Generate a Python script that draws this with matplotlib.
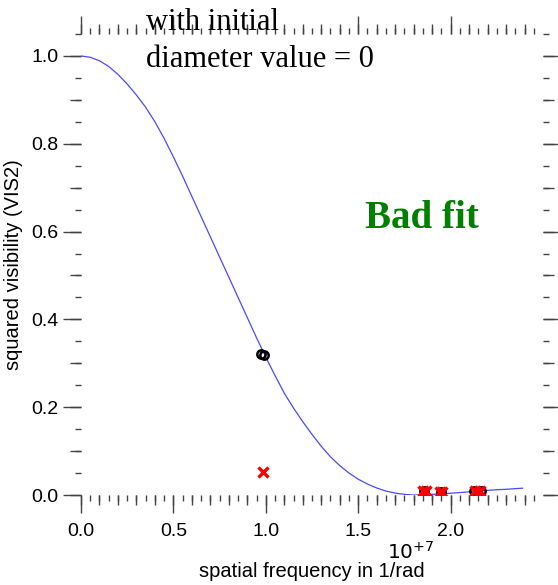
import numpy as np
import matplotlib
matplotlib.use("Agg")
import matplotlib.pyplot as plt

# spatial frequency in units of 1e7 1/rad
fit_freq = [0.0, 0.05, 0.10, 0.15, 0.20, 0.25, 0.30, 0.35, 0.40, 0.45, 0.50,
            0.55, 0.60, 0.65, 0.70, 0.75, 0.80, 0.85, 0.90, 0.95, 1.00,
            1.05, 1.10, 1.15, 1.20, 1.25, 1.30, 1.35, 1.40, 1.45, 1.50,
            1.55, 1.60, 1.65, 1.70, 1.75, 1.80, 1.85, 1.90, 1.95, 2.00,
            2.05, 2.10, 2.15, 2.20, 2.25, 2.30, 2.35, 2.39]
fit_vis2 = [1.0, 0.997, 0.989, 0.976, 0.958, 0.936, 0.911, 0.883, 0.850, 0.812, 0.770,
            0.726, 0.680, 0.634, 0.588, 0.542, 0.496, 0.450, 0.404, 0.358, 0.314,
            0.272, 0.232, 0.198, 0.167, 0.138, 0.111, 0.087, 0.067, 0.050, 0.036,
            0.025, 0.016, 0.009, 0.0045, 0.0015, 0.0, 0.0005, 0.0015, 0.0027, 0.004,
            0.0055, 0.0072, 0.009, 0.0105, 0.012, 0.013, 0.0145, 0.0155]

obs_freq = [0.975, 0.99, 1.855, 1.95, 2.125, 2.165]
obs_vis2 = [0.322, 0.318, 0.009, 0.006, 0.010, 0.010]

mod_freq = [0.985, 1.85, 1.865, 1.94, 1.955, 2.13, 2.16]
mod_vis2 = [0.053, 0.010, 0.009, 0.007, 0.006, 0.009, 0.009]

x_major = np.arange(0, 2.01, 0.5)
x_mid = np.arange(0, 2.41, 0.1)
x_minor = np.arange(0, 2.46, 0.05)
y_major = np.arange(0, 1.01, 0.2)
y_mid = np.arange(0, 1.051, 0.1)
y_minor = np.arange(0, 1.051, 0.05)

sans = ["Liberation Sans", "DejaVu Sans"]
serif = ["Liberation Serif", "DejaVu Serif"]
tick_col = "#444444"

fig = plt.figure(figsize=(5.58, 5.85), dpi=100)
ax = fig.add_axes([81 / 558, 90 / 585, 462 / 558, 461 / 585])

ax.plot(fit_freq, fit_vis2, color="#4a4aff", lw=0.9, zorder=2)
ax.plot(obs_freq, obs_vis2, "o", ms=6, mfc="none", mec="black", mew=1.8, zorder=3)
ax.plot(mod_freq, mod_vis2, "x", ms=6.5, color="red", mew=2.4, zorder=4)

ax.set_xlim(0, 2.5)
ax.set_ylim(0, 1.05)
for s in ax.spines.values():
    s.set_visible(False)

ax.set_xticks(x_major)
ax.set_xticks(x_minor, minor=True)
ax.set_yticks(y_major)
ax.set_yticks(y_minor, minor=True)
ax.set_xticklabels(["%.1f" % v for v in x_major], family=sans, fontsize=14)
ax.set_yticklabels(["%.1f" % v for v in y_major], family=sans, fontsize=14)
ax.tick_params(which="both", direction="out", top=True, right=True, color=tick_col, width=1.0)
ax.tick_params(which="major", length=13)
ax.tick_params(which="minor", length=4.5)
ax.tick_params(axis="x", which="major", pad=7)
ax.tick_params(axis="y", which="major", pad=3)

# medium ticks every 0.1
for loc in ["bottom", "top"]:
    sec = ax.secondary_xaxis(loc)
    sec.set_xticks(x_mid, labels=[""] * len(x_mid))
    sec.tick_params(direction="out", length=7, color=tick_col, width=1.0)
    for s in sec.spines.values():
        s.set_visible(False)
for loc in ["left", "right"]:
    sec = ax.secondary_yaxis(loc)
    sec.set_yticks(y_mid, labels=[""] * len(y_mid))
    sec.tick_params(direction="out", length=8, color=tick_col, width=1.0)
    for s in sec.spines.values():
        s.set_visible(False)

ax.set_xlabel("spatial frequency in 1/rad", family=sans, fontsize=14.5, labelpad=16)
ax.set_ylabel("squared visibility (VIS2)", family=sans, fontsize=14.5, labelpad=6)
fig.text(411 / 558, 1 - 559 / 585, r"$10^{+7}$", family=sans, fontsize=14.5,
         ha="center", va="baseline", math_fontfamily="dejavusans")

fig.text(146 / 558, 1 - 30 / 585, "with initial", family=serif, fontsize=22, va="baseline")
fig.text(146 / 558, 1 - 67 / 585, "diameter value = 0", family=serif, fontsize=22, va="baseline")
fig.text(365 / 558, 1 - 228 / 585, "Bad fit", family=serif, fontsize=28, fontweight="bold",
         color="#008000", va="baseline")

fig.savefig("out.png", dpi=100)
